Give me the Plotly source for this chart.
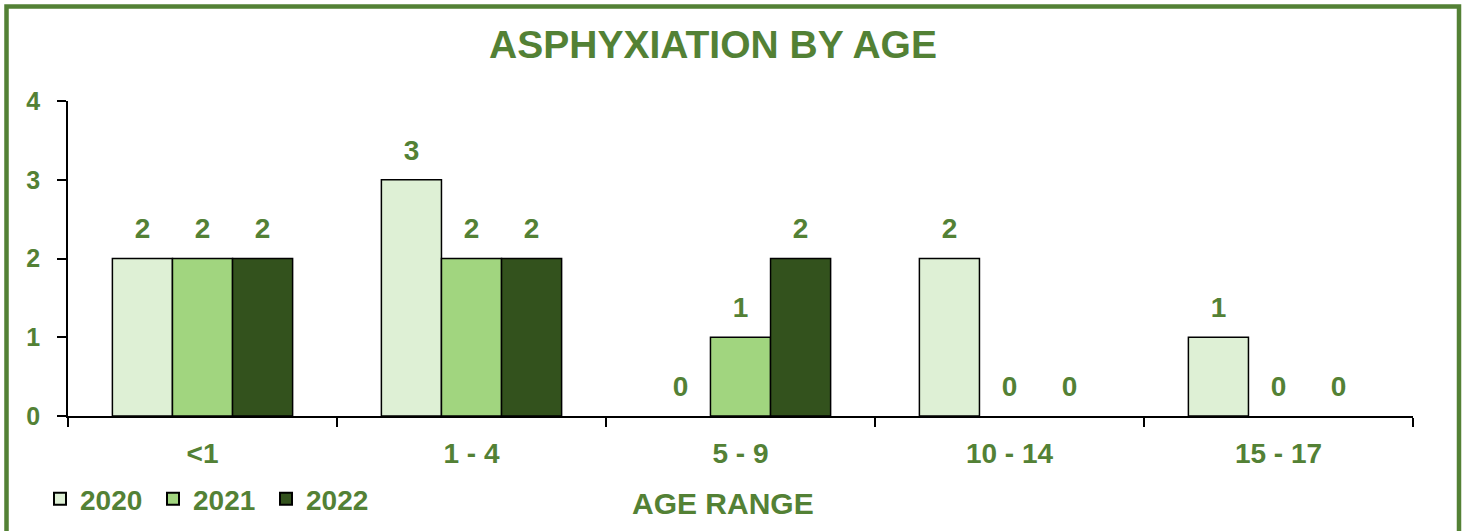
import plotly.graph_objects as go

categories = ["<1", "1 - 4", "5 - 9", "10 - 14", "15 - 17"]
years = ["2020", "2021", "2022"]
v2020 = [2, 3, 0, 2, 1]
v2021 = [2, 2, 1, 0, 0]
v2022 = [2, 2, 2, 0, 0]
series = [v2020, v2021, v2022]
colors = ["#DEF0D5", "#A1D57F", "#33521D"]
GREEN = "#538135"
FONT = "Liberation Sans, Arial, sans-serif"

W, H = 1466, 531
L, R, T, B = 68, 53, 101, 115
pw = W - L - R
ph = H - T - B

fig = go.Figure()
for name, vals, col in zip(years, series, colors):
    fig.add_trace(go.Bar(
        x=categories, y=vals, name=name, offsetgroup=name,
        marker=dict(color=col, line=dict(color="black", width=[1.5 if v else 0 for v in vals])),
        showlegend=False, hoverinfo="skip",
    ))
    # transparent spacer bars carrying the value labels above each bar
    fig.add_trace(go.Bar(
        x=categories, y=[0.14] * len(vals), base=vals, offsetgroup=name,
        marker=dict(color="rgba(0,0,0,0)", line=dict(width=0)),
        text=[str(v) for v in vals], textposition="outside", cliponaxis=False,
        textfont=dict(family=FONT, size=28, color=GREEN, weight="bold"),
        showlegend=False, hoverinfo="skip",
    ))
    fig.add_trace(go.Scatter(
        x=[None], y=[None], mode="markers", name=name,
        marker=dict(symbol="square", size=16, color=col, line=dict(color="black", width=1.5)),
    ))

fig.update_layout(
    width=W, height=H,
    margin=dict(l=L, r=R, t=T, b=B, pad=0, autoexpand=False),
    paper_bgcolor="white", plot_bgcolor="white",
    barmode="group", bargap=0.33, bargroupgap=0,
    title=dict(text="<b>ASPHYXIATION BY AGE</b>", x=713 / W, xanchor="center",
               y=1 - 44 / H, yanchor="middle", yref="container",
               font=dict(family=FONT, size=39, color=GREEN)),
    legend=dict(orientation="h", xref="container", yref="container",
                x=40 / W, xanchor="left", y=1 - 499 / H, yanchor="middle",
                font=dict(family=FONT, size=28, color=GREEN, weight="bold"),
                itemsizing="constant", entrywidth=68, entrywidthmode="pixels",
                bgcolor="rgba(0,0,0,0)", tracegroupgap=0, itemwidth=30),
    xaxis=dict(type="category", showline=True, linecolor="black", linewidth=1.5,
               ticks="outside", tickson="boundaries", ticklen=9, tickcolor="black", tickwidth=1.5,
               tickfont=dict(family=FONT, size=28, color=GREEN, weight="bold"),
               showgrid=False, zeroline=False, fixedrange=True, ticklabelstandoff=12),
    yaxis=dict(range=[0, 4], dtick=1, showline=True, linecolor="black", linewidth=1.5,
               ticks="outside", ticklen=9, tickcolor="black", tickwidth=1.5,
               tickfont=dict(family=FONT, size=25, color=GREEN, weight="bold"),
               showgrid=False, zeroline=False, fixedrange=True, ticklabelstandoff=12),
    annotations=[dict(text="<b>AGE RANGE</b>", xref="paper", yref="paper",
                      x=(723 - L) / pw, y=(T + ph - 504) / ph, xanchor="center", yanchor="middle",
                      showarrow=False,
                      font=dict(family=FONT, size=30, color=GREEN))],
    shapes=[dict(type="rect", xref="paper", yref="paper",
                 x0=(6.5 - L) / pw, x1=(1459 - L) / pw,
                 y0=(T + ph - 545) / ph, y1=(T + ph - 6.5) / ph,
                 line=dict(color=GREEN, width=4.5), fillcolor="rgba(0,0,0,0)", layer="below")],
)

fig.write_html("out.html", config={"displayModeBar": False},
               post_script="document.body.style.margin='0';document.body.style.overflow='hidden';")
